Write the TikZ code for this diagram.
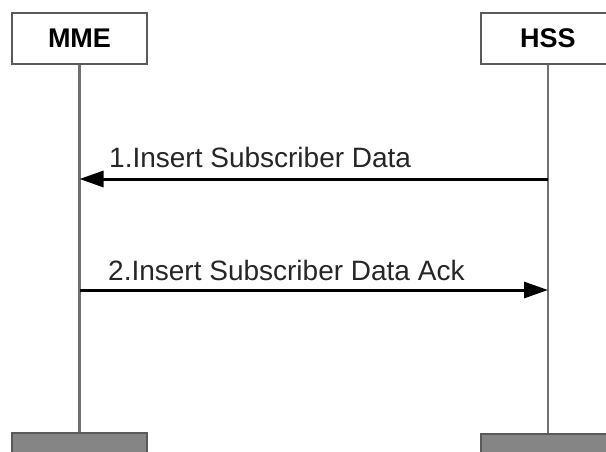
\documentclass[tikz,border=0pt]{standalone}
\usepackage{fontspec}
\setmainfont{Liberation Sans}
\usetikzlibrary{arrows.meta}
\definecolor{boxline}{HTML}{5A5A5A}
\definecolor{lifeline}{HTML}{707070}
\definecolor{footfill}{HTML}{858585}
\tikzset{
  x=1pt, y=1pt,
  header/.style={draw=boxline, line width=2pt, fill=white, minimum width=135pt,
    minimum height=51pt, inner sep=0pt, font=\fontsize{27}{30}\selectfont\bfseries},
  footer/.style={draw=boxline, line width=2pt, fill=footfill, minimum width=135pt,
    minimum height=40pt, inner sep=0pt},
  life/.style={draw=lifeline, line width=2.2pt},
  msg/.style={line width=3pt, -{Triangle[length=24pt,width=16pt]}},
  msglabel/.style={anchor=base west, inner sep=0pt, text=black!85,
    font=\fontsize{28}{32}\selectfont}
}
\begin{document}
\begin{tikzpicture}
\useasboundingbox (0,0) rectangle (606,-451);
\clip (0,0) rectangle (606,-451);
\fill[white] (0,0) rectangle (606,-451);

% lifeline heads
\node[header] (mme) at (79.5,-38.5) {MME};
\node[header] (hss) at (548,-38.5) {HSS};

% lifeline feet
\node[footer, anchor=north] (mmeEnd) at (79.5,-432) {};
\node[footer, anchor=north] (hssEnd) at (548,-432.5) {};

% lifelines
\draw[life] (mme.south) -- (mmeEnd.north);
\draw[life] (hss.south) -- (hssEnd.north);

% message anchor points on the lifelines
\coordinate (hssA) at (hss.south |- 0,-179);
\coordinate (mmeA) at (mme.south |- 0,-179);
\coordinate (mmeB) at (mme.south |- 0,-290);
\coordinate (hssB) at (hss.south |- 0,-290);

% messages
\draw[msg] (hssA) -- (mmeA);
\node[msglabel] (l1) at (109,-167) {1.Insert Subscriber Data};
\draw[msg] (mmeB) -- (hssB);
\node[msglabel] (l2) at (108,-280) {2.Insert Subscriber Data Ack};
\end{tikzpicture}
\end{document}
